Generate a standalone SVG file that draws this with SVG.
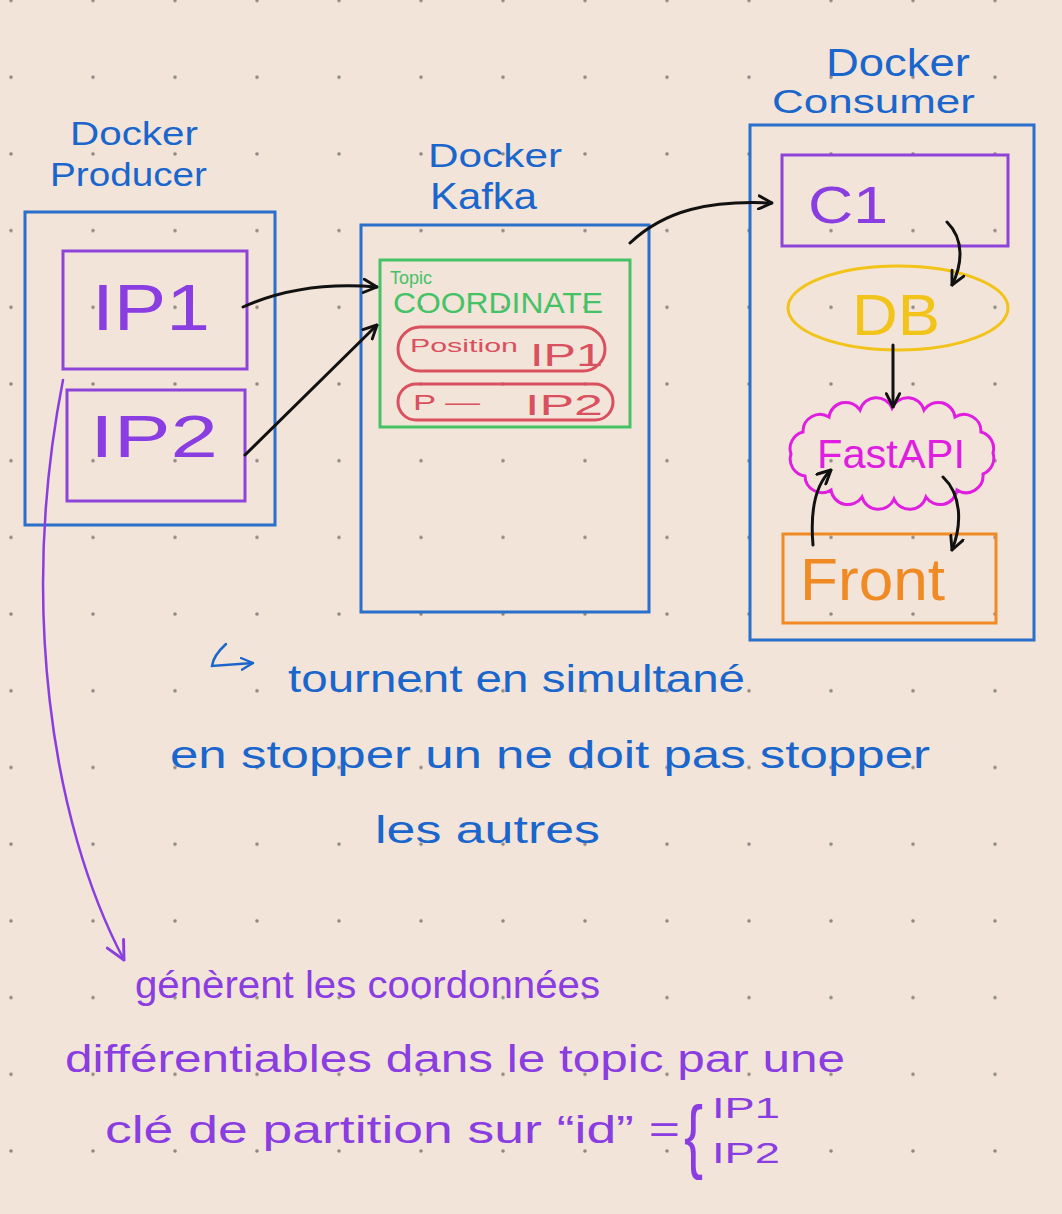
<svg xmlns="http://www.w3.org/2000/svg" width="1062" height="1214" viewBox="0 0 1062 1214">
<defs>
<pattern id="dots" x="0" y="-38.35" width="82" height="76.7" patternUnits="userSpaceOnUse">
<circle cx="11" cy="38.85" r="1.8" fill="#8d8884"/>
</pattern>
<marker id="ah" viewBox="0 0 12 12" refX="11" refY="6" markerWidth="16" markerHeight="16" markerUnits="userSpaceOnUse" orient="auto">
<path d="M1,1 L11,6 L1,11" fill="none" stroke="#111" stroke-width="2.2" stroke-linecap="round" stroke-linejoin="round"/>
</marker>
<marker id="ahp" viewBox="0 0 12 12" refX="11" refY="6" markerWidth="22" markerHeight="22" markerUnits="userSpaceOnUse" orient="auto">
<path d="M1,1 L11,6 L1,11" fill="none" stroke="#8a3de0" stroke-width="1.6" stroke-linecap="round" stroke-linejoin="round"/>
</marker>
<marker id="ahb" viewBox="0 0 12 12" refX="11" refY="6" markerWidth="14" markerHeight="14" markerUnits="userSpaceOnUse" orient="auto">
<path d="M1,1 L11,6 L1,11" fill="none" stroke="#1a66cc" stroke-width="2" stroke-linecap="round" stroke-linejoin="round"/>
</marker>
</defs>
<style>
text{font-family:"Liberation Sans","Open Sans",sans-serif}
.blue{fill:#1a66cc}
.purple{fill:#8a3de0}
.box{fill:none;stroke-width:3}
.bb{stroke:#2a6fc9}
.pb{stroke:#8e44d9}
.conn{fill:none;stroke:#111;stroke-width:3;stroke-linecap:round}
</style>
<rect width="1062" height="1214" fill="#f2e4d8"/>
<rect width="1062" height="1214" fill="url(#dots)"/>

<g id="producer">
<text class="blue" x="70" y="145" font-size="34" textLength="128" lengthAdjust="spacingAndGlyphs">Docker</text>
<text class="blue" x="50" y="186" font-size="34" textLength="157" lengthAdjust="spacingAndGlyphs">Producer</text>
<rect class="box bb" x="25" y="212" width="250" height="313"/>
</g>
<g id="ip1">
<rect class="box pb" x="63" y="251" width="184" height="118"/>
<text class="purple" x="92" y="330" font-size="64" textLength="118" lengthAdjust="spacingAndGlyphs">IP1</text>
</g>
<g id="ip2">
<rect class="box pb" x="67" y="390" width="178" height="111"/>
<text class="purple" x="90" y="457" font-size="60" textLength="128" lengthAdjust="spacingAndGlyphs">IP2</text>
</g>

<g id="kafka">
<text class="blue" x="428" y="167" font-size="34" textLength="134" lengthAdjust="spacingAndGlyphs">Docker</text>
<text class="blue" x="430" y="209" font-size="36" textLength="107" lengthAdjust="spacingAndGlyphs">Kafka</text>
<rect class="box bb" x="361" y="225" width="288" height="387"/>
</g>
<g id="topic">
<rect x="380" y="260" width="250" height="167" fill="none" stroke="#46c266" stroke-width="3"/>
<text x="390" y="284" font-size="19" fill="#46c266" textLength="42" lengthAdjust="spacingAndGlyphs">Topic</text>
<text x="393" y="313" font-size="30" fill="#46c266" textLength="210" lengthAdjust="spacingAndGlyphs">COORDINATE</text>
</g>
<g id="partition1">
<rect x="398" y="327" width="207" height="44" rx="22" fill="none" stroke="#d9505e" stroke-width="3"/>
<text x="410" y="352" font-size="19" fill="#d9505e" textLength="108" lengthAdjust="spacingAndGlyphs">Position</text>
<text x="530" y="366" font-size="32" fill="#d9505e" textLength="73" lengthAdjust="spacingAndGlyphs">IP1</text>
</g>
<g id="partition2">
<rect x="398" y="384" width="215" height="36" rx="18" fill="none" stroke="#d9505e" stroke-width="3"/>
<text x="413" y="410" font-size="22" fill="#d9505e" textLength="67" lengthAdjust="spacingAndGlyphs">P —</text>
<text x="525" y="415" font-size="30" fill="#d9505e" textLength="78" lengthAdjust="spacingAndGlyphs">IP2</text>
</g>

<g id="consumer">
<text class="blue" x="826" y="76" font-size="38" textLength="144" lengthAdjust="spacingAndGlyphs">Docker</text>
<text class="blue" x="772" y="113" font-size="33" textLength="203" lengthAdjust="spacingAndGlyphs">Consumer</text>
<rect class="box bb" x="750" y="125" width="284" height="515"/>
</g>
<g id="c1">
<rect class="box pb" x="782" y="155" width="226" height="91"/>
<text class="purple" x="808" y="223" font-size="52" textLength="80" lengthAdjust="spacingAndGlyphs">C1</text>
</g>
<g id="db">
<ellipse cx="898" cy="308" rx="110" ry="42" fill="none" stroke="#f2c318" stroke-width="3"/>
<text x="852" y="335" font-size="58" fill="#f2c318" textLength="88" lengthAdjust="spacingAndGlyphs">DB</text>
</g>
<g id="fastapi">
<path d="M993,453 A17,17 0 0 1 983,474 A17,17 0 0 1 957,490 A17,17 0 0 1 926,497 A17,17 0 0 1 894,499 A17,17 0 0 1 862,497 A17,17 0 0 1 831,490 A17,17 0 0 1 805,476 A17,17 0 0 1 791,454 A17,17 0 0 1 803,432 A17,17 0 0 1 829,417 A17,17 0 0 1 860,410 A17,17 0 0 1 892,408 A17,17 0 0 1 924,410 A17,17 0 0 1 955,417 A17,17 0 0 1 981,432 A17,17 0 0 1 993,453 Z" fill="none" stroke="#e01ee0" stroke-width="3"/>
<text x="817" y="468" font-size="40" fill="#e01ee0" textLength="148" lengthAdjust="spacingAndGlyphs">FastAPI</text>
</g>
<g id="front">
<rect x="783" y="534" width="213" height="89" fill="none" stroke="#f08a24" stroke-width="3"/>
<text x="800" y="600" font-size="60" fill="#f08a24" textLength="145" lengthAdjust="spacingAndGlyphs">Front</text>
</g>

<g id="connectors">
<path class="conn" d="M243,307 C285,288 330,283 377,287" marker-end="url(#ah)"/>
<path class="conn" d="M245,455 L377,325" marker-end="url(#ah)"/>
<path class="conn" d="M630,243 C665,210 710,200 772,203" marker-end="url(#ah)"/>
<path class="conn" d="M947,222 C965,240 962,265 952,285" marker-end="url(#ah)"/>
<path class="conn" d="M893,345 L893,407" marker-end="url(#ah)"/>
<path class="conn" d="M943,477 C962,495 962,525 952,550" marker-end="url(#ah)"/>
<path class="conn" d="M813,545 C810,510 815,485 831,470" marker-end="url(#ah)"/>
<path d="M63,380 C20,600 50,820 124,960" fill="none" stroke="#8a3de0" stroke-width="2.5" stroke-linecap="round" marker-end="url(#ahp)"/>
<path d="M226,644 Q213,656 212,666 L253,663" fill="none" stroke="#1a66cc" stroke-width="2.5" stroke-linecap="round" marker-end="url(#ahb)"/>
</g>

<g id="notes">
<text class="blue" x="288" y="692" font-size="38" textLength="457" lengthAdjust="spacingAndGlyphs">tournent en simultané</text>
<text class="blue" x="170" y="768" font-size="38" textLength="760" lengthAdjust="spacingAndGlyphs">en stopper un ne doit pas stopper</text>
<text class="blue" x="375" y="843" font-size="38" textLength="225" lengthAdjust="spacingAndGlyphs">les autres</text>
<text class="purple" x="135" y="998" font-size="38" textLength="465" lengthAdjust="spacingAndGlyphs">génèrent les coordonnées</text>
<text class="purple" x="65" y="1072" font-size="38" textLength="780" lengthAdjust="spacingAndGlyphs">différentiables dans le topic par une</text>
<text class="purple" x="105" y="1143" font-size="38" textLength="575" lengthAdjust="spacingAndGlyphs">clé de partition sur “id” =</text>
<text class="purple" x="684" y="1163" font-size="82" transform="translate(684 1163) scale(0.7 1) translate(-684 -1163)">{</text>
<text class="purple" x="712" y="1118" font-size="30" textLength="68" lengthAdjust="spacingAndGlyphs">IP1</text>
<text class="purple" x="712" y="1163" font-size="30" textLength="68" lengthAdjust="spacingAndGlyphs">IP2</text>
</g>
</svg>
